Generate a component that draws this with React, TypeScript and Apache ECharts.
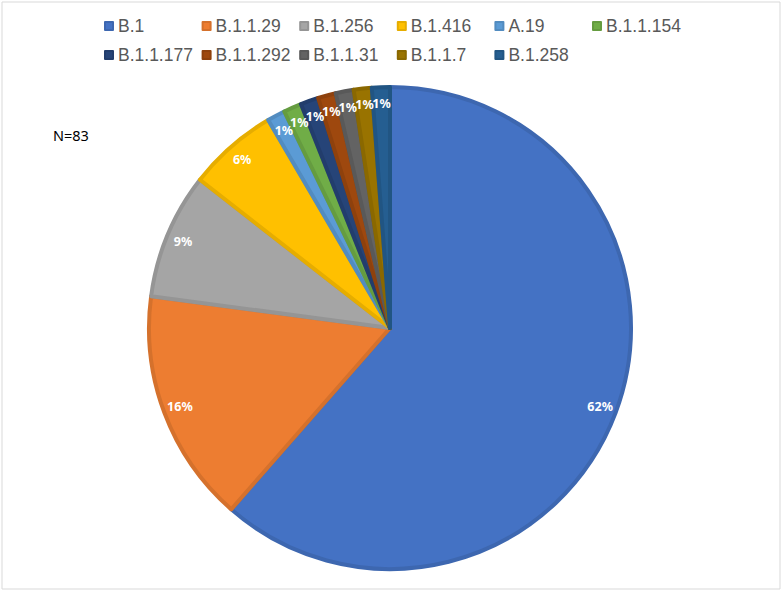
import React, { useEffect, useRef } from "react";
import * as echarts from "echarts";

const categories = [
  "B.1", "B.1.1.29", "B.1.256", "B.1.416", "A.19", "B.1.1.154",
  "B.1.1.177", "B.1.1.292", "B.1.1.31", "B.1.1.7", "B.1.258",
];
const counts = [51, 13, 7, 5, 1, 1, 1, 1, 1, 1, 1];
const shownPercent = [62, 16, 9, 6, 1, 1, 1, 1, 1, 1, 1];
const colors = [
  "#4472C4", "#ED7D31", "#A5A5A5", "#FFC000", "#5B9BD5", "#70AD47",
  "#264478", "#9E480E", "#636363", "#997300", "#255E91",
];
const sampleLabel = "N=83";

function darken(hex: string, f: number): string {
  const n = parseInt(hex.slice(1), 16);
  const r = Math.round(((n >> 16) & 255) * f);
  const g = Math.round(((n >> 8) & 255) * f);
  const b = Math.round((n & 255) * f);
  return "rgb(" + r + "," + g + "," + b + ")";
}

export default function App() {
  const ref = useRef<HTMLDivElement>(null);
  useEffect(() => {
    document.body.style.margin = "0";
    const chart = echarts.init(ref.current!, null, { renderer: "svg" });
    const cx = 390;
    const cy = 328;
    const R = 241;
    const legends = categories.map((name, i) => {
      const col = i % 6;
      const row = Math.floor(i / 6);
      return {
        data: [name],
        left: 104 + col * 97.6,
        top: row === 0 ? 16 : 45,
        padding: 0,
        icon: "rect",
        itemWidth: 8,
        itemHeight: 8,
        selectedMode: false,
        textStyle: {
          fontFamily: "Liberation Sans",
          fontSize: 17.5,
          lineHeight: 20,
          color: "#595959",
        },
      };
    });
    chart.setOption({
      animation: false,
      backgroundColor: "#ffffff",
      color: colors,
      legend: legends,
      graphic: [
        {
          type: "rect",
          shape: { x: 2, y: 2, width: 778, height: 587 },
          style: { fill: "none", stroke: "#d9d9d9", lineWidth: 1 },
          silent: true,
        },
        {
          type: "text",
          left: 53,
          top: 127,
          style: {
            text: sampleLabel,
            fontFamily: "Noto Sans",
            fontSize: 14.5,
            fill: "#000000",
          },
        },
      ],
      series: [
        {
          type: "pie",
          center: [cx, cy],
          radius: [0, R],
          startAngle: 90,
          clockwise: true,
          label: { show: false },
          labelLine: { show: false },
          silent: true,
          data: categories.map((name, i) => ({
            name,
            value: counts[i],
            itemStyle: {
              color: colors[i],
              borderColor: darken(colors[i], 0.9),
              borderWidth: 4,
            },
          })),
        },
        {
          type: "pie",
          center: [cx, cy],
          radius: [200, 243],
          startAngle: 90,
          clockwise: true,
          silent: true,
          avoidLabelOverlap: false,
          labelLayout: { hideOverlap: false },
          labelLine: { show: false },
          label: {
            show: true,
            position: "inside",
            color: "#ffffff",
            fontFamily: "Noto Sans",
            fontWeight: "bold",
            fontSize: 12.5,
            overflow: "none",
          },
          itemStyle: { color: "rgba(0,0,0,0)", borderWidth: 0 },
          data: categories.map((name, i) => ({
            name,
            value: counts[i],
            label: { formatter: shownPercent[i] + "%" },
          })),
        },
      ],
    });
    return () => chart.dispose();
  }, []);
  return <div ref={ref} style={{ width: 782, height: 592 }} />;
}
